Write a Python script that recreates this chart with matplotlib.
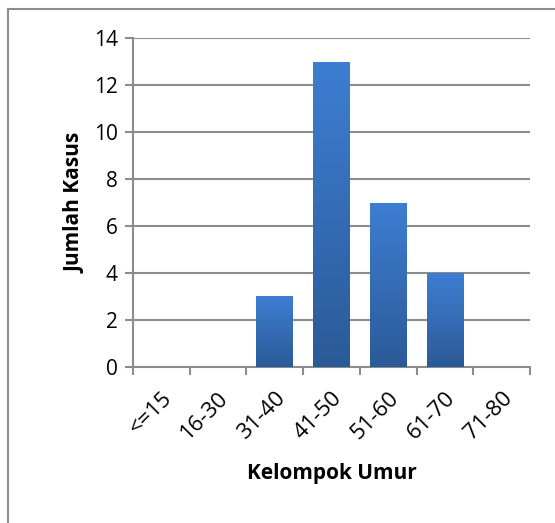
import matplotlib.pyplot as plt
import numpy as np
import matplotlib.transforms as mtransforms
from matplotlib.colors import LinearSegmentedColormap
from matplotlib.lines import Line2D

# data
kelompok = ['<=15', '16-30', '31-40', '41-50', '51-60', '61-70', '71-80']
jumlah = [0, 0, 3, 13, 7, 4, 0]

plt.rcParams['font.family'] = ['Open Sans', 'DejaVu Sans']

fig = plt.figure(figsize=(5.55, 5.23), dpi=100)
ax = fig.add_axes([0.2396, 0.2983, 0.7154, 0.629])

x = np.arange(len(kelompok))
bars = ax.bar(x, jumlah, width=0.65, color='#3468B0', zorder=3)

# vertical gradient on each bar, light at top, dark at bottom
grad = np.linspace(0, 1, 256).reshape(-1, 1)
cmap = LinearSegmentedColormap.from_list('bar', ['#2C5A98', '#3D7ED2'])
for b in bars:
    h = b.get_height()
    if h <= 0:
        continue
    x0 = b.get_x()
    w = b.get_width()
    im = ax.imshow(grad, extent=[x0, x0 + w, 0, h], origin='lower',
                   cmap=cmap, aspect='auto', zorder=4)
    im.set_clip_path(b)

ax.set_xlim(-0.5, len(kelompok) - 0.5)
ax.set_ylim(0, 14)
ax.set_yticks(range(0, 15, 2))
ax.set_xticks(np.arange(-0.5, len(kelompok), 1.0))
ax.set_xticklabels([])
ax.set_xticks(x, minor=True)
ax.set_xticklabels(kelompok, minor=True, rotation=45, ha='right',
                   va='top', rotation_mode='anchor', fontsize=16)
off = mtransforms.ScaledTranslation(8 / 100, 0, fig.dpi_scale_trans)
for lab in ax.get_xticklabels(minor=True):
    lab.set_transform(lab.get_transform() + off)
ax.tick_params(axis='x', which='minor', length=0, pad=15)
ax.tick_params(axis='x', which='major', length=6, width=1.5, color='#8C8C8C')
ax.tick_params(axis='y', length=6, width=1.5, color='#8C8C8C', labelsize=15, pad=5)

ax.grid(axis='y', color='#8C8C8C', linewidth=1.5, zorder=0)
ax.set_axisbelow(True)
for s in ['top', 'right']:
    ax.spines[s].set_visible(False)
for s in ['left', 'bottom']:
    ax.spines[s].set_color('#8C8C8C')
    ax.spines[s].set_linewidth(1.5)

ax.set_ylabel('Jumlah Kasus', fontsize=15, fontweight='bold', labelpad=6)
ax.set_xlabel('Kelompok Umur', fontsize=15, fontweight='bold', labelpad=14)

# chart area border (top and left visible)
fig.add_artist(Line2D([8 / 555, 1.0], [1 - 9 / 523, 1 - 9 / 523],
                      transform=fig.transFigure, color='#8C8C8C', linewidth=1.5))
fig.add_artist(Line2D([8 / 555, 8 / 555], [0.0, 1 - 9 / 523],
                      transform=fig.transFigure, color='#8C8C8C', linewidth=1.5))

fig.savefig('out.png', dpi=100)
